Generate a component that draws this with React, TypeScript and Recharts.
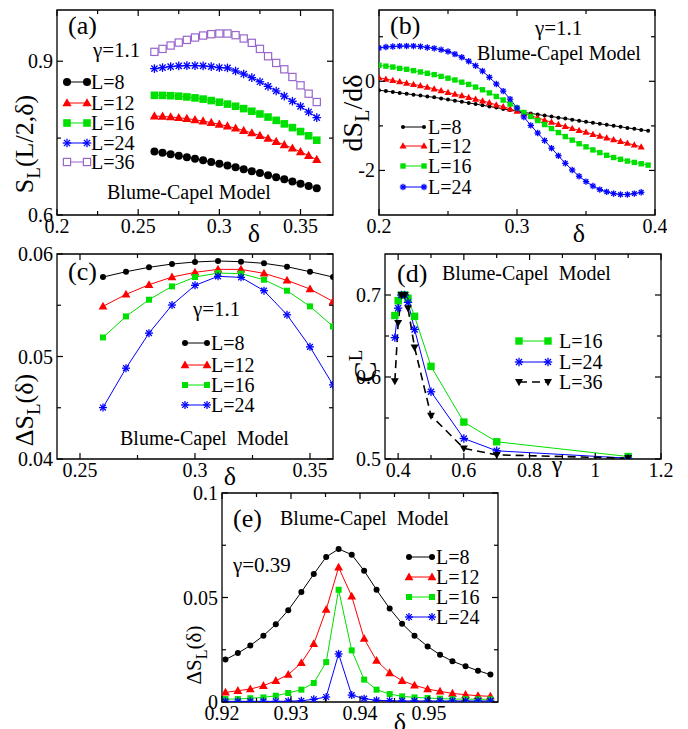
import React from 'react'
import { LineChart, Line, XAxis, YAxis, ReferenceArea, Customized } from 'recharts'

const FONT = 'Liberation Serif, DejaVu Serif, serif'
const RED = '#ff0000'
const GREEN = '#00e000'
const BLUE = '#0000ff'
const PURPLE = '#9966cc'

// (a) entanglement entropy S_L(L/2, delta), gamma = 1.1
const aDelta = [0.26, 0.265, 0.27, 0.275, 0.28, 0.285, 0.29, 0.295, 0.3, 0.305, 0.31, 0.315, 0.32, 0.325, 0.33, 0.335, 0.34, 0.345, 0.35, 0.355, 0.36]
const aL8 = [0.724, 0.7213, 0.7186, 0.7158, 0.7128, 0.7098, 0.7066, 0.7034, 0.7, 0.6966, 0.693, 0.6894, 0.6856, 0.6818, 0.6778, 0.6738, 0.6696, 0.6654, 0.661, 0.6566, 0.652]
const aL12 = [0.793, 0.7923, 0.7913, 0.7898, 0.788, 0.7858, 0.7833, 0.7803, 0.777, 0.7733, 0.7693, 0.7648, 0.76, 0.7548, 0.7493, 0.7433, 0.737, 0.7303, 0.7233, 0.7158, 0.708]
const aL16 = [0.8335, 0.8334, 0.8328, 0.8319, 0.8304, 0.8285, 0.8261, 0.8233, 0.8201, 0.8164, 0.8122, 0.8076, 0.8025, 0.7971, 0.7911, 0.7847, 0.7778, 0.7705, 0.7628, 0.7546, 0.7459]
const aL24 = [0.8856, 0.8876, 0.8896, 0.8909, 0.8915, 0.8915, 0.8909, 0.8896, 0.8876, 0.887, 0.881, 0.875, 0.868, 0.86, 0.851, 0.842, 0.832, 0.822, 0.812, 0.801, 0.79]
const aL36 = [0.9183, 0.9241, 0.9307, 0.9365, 0.9417, 0.9463, 0.9502, 0.9528, 0.9541, 0.9541, 0.9509, 0.9444, 0.9359, 0.9241, 0.9098, 0.8967, 0.8843, 0.8693, 0.853, 0.8367, 0.8204]
const aXTicks = [0.2, 0.225, 0.25, 0.275, 0.3, 0.325, 0.35]
const aXLabels = ['0.2', '', '0.25', '', '0.3', '', '0.35']
const aYTicks = [0.6, 0.75, 0.9]
const aYLabels = ['0.6', '', '0.9']

// (b) derivative dS_L/d delta
const bDelta = [0.2, 0.205, 0.21, 0.215, 0.22, 0.225, 0.23, 0.235, 0.24, 0.245, 0.25, 0.255, 0.26, 0.265, 0.27, 0.275, 0.28, 0.285, 0.29, 0.295, 0.3, 0.305, 0.31, 0.315, 0.32, 0.325, 0.33, 0.335, 0.34, 0.345, 0.35, 0.355, 0.36, 0.365, 0.37, 0.375, 0.38, 0.385, 0.39, 0.395]
const bL8 = [-0.2, -0.22, -0.24, -0.26, -0.28, -0.3, -0.32, -0.34, -0.36, -0.385, -0.41, -0.435, -0.46, -0.485, -0.51, -0.54, -0.565, -0.59, -0.62, -0.645, -0.67, -0.7, -0.72, -0.745, -0.77, -0.79, -0.815, -0.835, -0.86, -0.885, -0.91, -0.93, -0.955, -0.975, -1.0, -1.02, -1.045, -1.065, -1.09, -1.11]
const bL12 = [0.08, 0.05, 0.02, -0.01, -0.04, -0.07, -0.1, -0.13, -0.17, -0.21, -0.25, -0.29, -0.32, -0.36, -0.4, -0.44, -0.48, -0.53, -0.57, -0.62, -0.67, -0.72, -0.77, -0.82, -0.87, -0.92, -0.97, -1.01, -1.06, -1.1, -1.14, -1.19, -1.23, -1.27, -1.31, -1.35, -1.39, -1.43, -1.47]
const bL16 = [0.36, 0.34, 0.32, 0.29, 0.27, 0.24, 0.21, 0.18, 0.15, 0.11, 0.07, 0.03, -0.02, -0.07, -0.13, -0.19, -0.26, -0.34, -0.42, -0.51, -0.6, -0.7, -0.79, -0.88, -0.97, -1.06, -1.15, -1.24, -1.32, -1.4, -1.47, -1.54, -1.6, -1.66, -1.71, -1.75, -1.79, -1.82, -1.85, -1.88]
const bL24 = [0.75, 0.77, 0.78, 0.79, 0.79, 0.79, 0.78, 0.76, 0.74, 0.71, 0.67, 0.61, 0.54, 0.45, 0.35, 0.23, 0.09, -0.06, -0.22, -0.4, -0.6, -0.8, -0.99, -1.16, -1.33, -1.5, -1.67, -1.84, -1.99, -2.13, -2.25, -2.35, -2.43, -2.48, -2.52, -2.54, -2.54, -2.52, -2.49]
const bXTicks = [0.2, 0.25, 0.3, 0.35, 0.4]
const bXLabels = ['0.2', '', '0.3', '', '0.4']
const bYTicks = [-2, -1, 0, 1]
const bYLabels = ['-2', '', '0', '']

// (c) Delta S_L(delta)
const cDelta = [0.26, 0.27, 0.28, 0.29, 0.3, 0.31, 0.32, 0.33, 0.34, 0.35, 0.36]
const cL8 = [0.05775, 0.05827, 0.0587, 0.05902, 0.05922, 0.05932, 0.05925, 0.05909, 0.05876, 0.05827, 0.05775]
const cL12 = [0.05489, 0.05606, 0.057, 0.05775, 0.05821, 0.0585, 0.0585, 0.05811, 0.05743, 0.05658, 0.05537]
const cL16 = [0.05186, 0.05391, 0.05554, 0.05684, 0.05775, 0.05814, 0.05808, 0.05749, 0.05642, 0.05489, 0.05293]
const cL24 = [0.04502, 0.04886, 0.05228, 0.05502, 0.05694, 0.05782, 0.05772, 0.05642, 0.05407, 0.05094, 0.04723]
const cXTicks = [0.25, 0.275, 0.3, 0.325, 0.35]
const cXLabels = ['0.25', '', '0.3', '', '0.35']
const cYTicks = [0.04, 0.045, 0.05, 0.055, 0.06]
const cYLabels = ['0.04', '', '0.05', '', '0.06']

// (d) C_L versus gamma
const dGamma = [0.39, 0.4, 0.41, 0.42, 0.43, 0.45, 0.5, 0.6, 0.7, 1.1]
const dL16 = [0.675, 0.693, 0.7, 0.7, 0.696, 0.674, 0.613, 0.545, 0.521, 0.503]
const dL24 = [0.648, 0.684, 0.7, 0.7, 0.691, 0.658, 0.582, 0.525, 0.51, 0.501]
const dL36 = [0.595, 0.666, 0.7, 0.7, 0.684, 0.636, 0.553, 0.513, 0.505, 0.501]
const dXTicks = [0.4, 0.5, 0.6, 0.7, 0.8, 0.9, 1, 1.1, 1.2]
const dXLabels = ['0.4', '', '0.6', '', '0.8', '', '1', '', '1.2']
const dYTicks = [0.5, 0.55, 0.6, 0.65, 0.7]
const dYLabels = ['0.5', '', '0.6', '', '0.7']

// (e) Delta S_L(delta), gamma = 0.39
const eDelta = [0.9205, 0.9223, 0.9241, 0.926, 0.9278, 0.9296, 0.9315, 0.9333, 0.9351, 0.9369, 0.9388, 0.9406, 0.9424, 0.9443, 0.9461, 0.9479, 0.9498, 0.9516, 0.9534, 0.9553, 0.9571, 0.9589]
const eL8 = [0.0203, 0.0234, 0.027, 0.0317, 0.0372, 0.0439, 0.0526, 0.0612, 0.0694, 0.0732, 0.0705, 0.0628, 0.0537, 0.0447, 0.0375, 0.0317, 0.0266, 0.0226, 0.0195, 0.0171, 0.015, 0.0131]
const eL12 = [0.0046, 0.0054, 0.0062, 0.0078, 0.0102, 0.0131, 0.0187, 0.0278, 0.0442, 0.0644, 0.0506, 0.0303, 0.0198, 0.0139, 0.0102, 0.008, 0.0062, 0.0051, 0.0041, 0.0035, 0.003, 0.0027]
const eL16 = [0.0014, 0.0014, 0.0018, 0.0022, 0.003, 0.0043, 0.0059, 0.0091, 0.0191, 0.0537, 0.0247, 0.0107, 0.0059, 0.0038, 0.0027, 0.0022, 0.0019, 0.0016, 0.0014, 0.0014, 0.0013, 0.0013]
const eL24 = [0.0003, 0.0003, 0.0003, 0.0003, 0.0003, 0.0004, 0.0006, 0.0013, 0.0024, 0.023, 0.0033, 0.0016, 0.0008, 0.0006, 0.0005, 0.0005, 0.0005, 0.0005, 0.0005, 0.0005, 0.0005, 0.0005]
const eXTicks = [0.92, 0.925, 0.93, 0.935, 0.94, 0.945, 0.95, 0.955]
const eXLabels = ['0.92', '', '0.93', '', '0.94', '', '0.95', '']
const eYTicks = [0, 0.025, 0.05, 0.075, 0.1]
const eYLabels = ['0', '', '0.05', '', '0.1']

type Shape = 'circle' | 'triUp' | 'triDown' | 'square' | 'openSquare' | 'star'

interface SeriesSpec {
  name: string
  xs: number[]
  ys: number[]
  color: string
  shape: Shape
  size: number
  dash?: string
  lw?: number
}

const zip = (xs: number[], ys: number[]) => ys.map((y, i) => ({ x: xs[i], y }))

function Marker({ cx, cy, shape, color, s }: { cx: number; cy: number; shape: Shape; color: string; s: number }) {
  if (cx == null || cy == null || isNaN(cx) || isNaN(cy)) return null
  switch (shape) {
    case 'circle':
      return <circle cx={cx} cy={cy} r={s} fill={color} />
    case 'square':
      return <rect x={cx - s} y={cy - s} width={2 * s} height={2 * s} fill={color} />
    case 'openSquare':
      return <rect x={cx - s} y={cy - s} width={2 * s} height={2 * s} fill="#fff" stroke={color} strokeWidth={1.2} />
    case 'triUp':
      return <polygon points={`${cx},${cy - s * 1.15} ${cx - s * 1.1},${cy + s * 0.8} ${cx + s * 1.1},${cy + s * 0.8}`} fill={color} />
    case 'triDown':
      return <polygon points={`${cx},${cy + s * 1.15} ${cx - s * 1.1},${cy - s * 0.8} ${cx + s * 1.1},${cy - s * 0.8}`} fill={color} />
    case 'star': {
      const d = s * 0.72
      return (
        <g stroke={color} strokeWidth={1.3}>
          <line x1={cx - s} y1={cy} x2={cx + s} y2={cy} />
          <line x1={cx} y1={cy - s} x2={cx} y2={cy + s} />
          <line x1={cx - d} y1={cy - d} x2={cx + d} y2={cy + d} />
          <line x1={cx - d} y1={cy + d} x2={cx + d} y2={cy - d} />
        </g>
      )
    }
  }
  return null
}

const txt = (size: number): React.CSSProperties => ({ fontFamily: FONT, fontSize: size })

function LegendRow({ s, x1, x2, y, gap }: { s: SeriesSpec; x1: number; x2: number; y: number; gap: number }) {
  return (
    <g>
      <line x1={x1} y1={y} x2={x2} y2={y} stroke={s.color} strokeWidth={s.lw ?? 1} strokeDasharray={s.dash} />
      <Marker cx={x1} cy={y} shape={s.shape} color={s.color} s={s.size} />
      <Marker cx={x2} cy={y} shape={s.shape} color={s.color} s={s.size} />
      <text x={x2 + gap} y={y + 7} style={txt(20)} fill="#000">
        {s.name}
      </text>
    </g>
  )
}

function Legend({ series, x1, x2, ys, gap = 4 }: { series: SeriesSpec[]; x1: number; x2: number; ys: number[]; gap?: number }) {
  return (
    <g>
      {series.map((s, i) => (
        <LegendRow key={s.name} s={s} x1={x1} x2={x2} y={ys[i]} gap={gap} />
      ))}
    </g>
  )
}

function T({ x, y, size = 20, children, anchor = 'start' }: { x: number; y: number; size?: number; children: React.ReactNode; anchor?: string }) {
  return (
    <text x={x} y={y} style={{ ...txt(size), whiteSpace: 'pre' }} fill="#000" textAnchor={anchor as any}>
      {children}
    </text>
  )
}

// rotated axis title: cx = baseline x, cy = centre along the axis
function VTitle({ cx, cy, children, size = 25 }: { cx: number; cy: number; children: React.ReactNode; size?: number }) {
  return (
    <text x={cx} y={cy} transform={`rotate(-90 ${cx} ${cy})`} style={txt(size)} fill="#000" textAnchor="middle">
      {children}
    </text>
  )
}

const findLabel = (ticks: number[], labels: string[], v: number) => {
  const i = ticks.findIndex((t) => Math.abs(t - v) < 1e-9)
  return i >= 0 ? labels[i] : ''
}

const ML = 60
const MT = 12

interface PanelProps {
  box: [number, number, number, number]
  xDomain: [number, number]
  yDomain: [number, number]
  xTicks: number[]
  xLabels: string[]
  yTicks: number[]
  yLabels: string[]
  series: SeriesSpec[]
  overlay: React.ReactNode
}

function Panel({ box, xDomain, yDomain, xTicks, xLabels, yTicks, yLabels, series, overlay }: PanelProps) {
  const [px, py, pw, ph] = box
  const left = px - ML
  const top = py - MT
  const plotRight = ML + pw

  const xTick = (p: any) => {
    const { x, y, payload } = p
    const label = findLabel(xTicks, xLabels, payload.value)
    const len = label ? 6 : 4
    return (
      <g>
        <line x1={x} y1={y} x2={x} y2={y - len} stroke="#000" strokeWidth={1.2} />
        <line x1={x} y1={MT} x2={x} y2={MT + len} stroke="#000" strokeWidth={1.2} />
        {label && (
          <text x={x} y={y + 18} textAnchor="middle" style={txt(20)} fill="#000">
            {label}
          </text>
        )}
      </g>
    )
  }

  const yTick = (p: any) => {
    const { x, y, payload } = p
    const label = findLabel(yTicks, yLabels, payload.value)
    const len = label ? 6 : 4
    return (
      <g>
        <line x1={x} y1={y} x2={x + len} y2={y} stroke="#000" strokeWidth={1.2} />
        <line x1={plotRight} y1={y} x2={plotRight - len} y2={y} stroke="#000" strokeWidth={1.2} />
        {label && (
          <text x={x - 4} y={y + 7} textAnchor="end" style={txt(20)} fill="#000">
            {label}
          </text>
        )}
      </g>
    )
  }

  return (
    <div style={{ position: 'absolute', left, top }}>
      <LineChart width={pw + ML + 12} height={ph + MT + 40} margin={{ top: MT, right: 12, left: 0, bottom: 0 }}>
        <XAxis
          type="number"
          dataKey="x"
          domain={xDomain}
          ticks={xTicks}
          interval={0}
          allowDataOverflow
          height={40}
          tickSize={0}
          tickMargin={0}
          tickLine={false}
          axisLine={false}
          tick={xTick}
        />
        <YAxis
          type="number"
          domain={yDomain}
          ticks={yTicks}
          interval={0}
          allowDataOverflow
          width={ML}
          tickSize={0}
          tickMargin={0}
          tickLine={false}
          axisLine={false}
          tick={yTick}
        />
        <ReferenceArea x1={xDomain[0]} x2={xDomain[1]} y1={yDomain[0]} y2={yDomain[1]} fill="none" stroke="#000" strokeWidth={1.3} ifOverflow="visible" />
        {series.map((s) => (
          <Line
            key={s.name}
            data={zip(s.xs, s.ys)}
            dataKey="y"
            type="linear"
            stroke={s.color}
            strokeWidth={s.lw ?? 1}
            strokeDasharray={s.dash}
            isAnimationActive={false}
            activeDot={false}
            legendType="none"
            dot={(p: any) => <Marker key={`${s.name}-${p.index}`} cx={p.cx} cy={p.cy} shape={s.shape} color={s.color} s={s.size} />}
          />
        ))}
        <Customized component={() => <g transform={`translate(${-left},${-top})`}>{overlay}</g>} />
      </LineChart>
    </div>
  )
}

const seriesA: SeriesSpec[] = [
  { name: 'L=8', xs: aDelta, ys: aL8, color: '#000', shape: 'circle', size: 4 },
  { name: 'L=12', xs: aDelta, ys: aL12, color: RED, shape: 'triUp', size: 4.2 },
  { name: 'L=16', xs: aDelta, ys: aL16, color: GREEN, shape: 'square', size: 3.8 },
  { name: 'L=24', xs: aDelta, ys: aL24, color: BLUE, shape: 'star', size: 4.3 },
  { name: 'L=36', xs: aDelta, ys: aL36, color: PURPLE, shape: 'openSquare', size: 3.6 },
]

const seriesB: SeriesSpec[] = [
  { name: 'L=8', xs: bDelta, ys: bL8, color: '#000', shape: 'circle', size: 2 },
  { name: 'L=12', xs: bDelta, ys: bL12, color: RED, shape: 'triUp', size: 3.2 },
  { name: 'L=16', xs: bDelta, ys: bL16, color: GREEN, shape: 'square', size: 2.7 },
  { name: 'L=24', xs: bDelta, ys: bL24, color: BLUE, shape: 'star', size: 3.2 },
]

const seriesC: SeriesSpec[] = [
  { name: 'L=8', xs: cDelta, ys: cL8, color: '#000', shape: 'circle', size: 3 },
  { name: 'L=12', xs: cDelta, ys: cL12, color: RED, shape: 'triUp', size: 4 },
  { name: 'L=16', xs: cDelta, ys: cL16, color: GREEN, shape: 'square', size: 3 },
  { name: 'L=24', xs: cDelta, ys: cL24, color: BLUE, shape: 'star', size: 4 },
]

const seriesD: SeriesSpec[] = [
  { name: 'L=16', xs: dGamma, ys: dL16, color: GREEN, shape: 'square', size: 3.7 },
  { name: 'L=24', xs: dGamma, ys: dL24, color: BLUE, shape: 'star', size: 4.2 },
  { name: 'L=36', xs: dGamma, ys: dL36, color: '#000', shape: 'triDown', size: 3.6, dash: '8 5', lw: 1.6 },
]

const seriesE: SeriesSpec[] = [
  { name: 'L=8', xs: eDelta, ys: eL8, color: '#000', shape: 'circle', size: 3 },
  { name: 'L=12', xs: eDelta, ys: eL12, color: RED, shape: 'triUp', size: 4 },
  { name: 'L=16', xs: eDelta, ys: eL16, color: GREEN, shape: 'square', size: 3 },
  { name: 'L=24', xs: eDelta, ys: eL24, color: BLUE, shape: 'star', size: 4 },
]

export default function App() {
  return (
    <div style={{ position: 'absolute', left: 0, top: 0, width: 688, height: 729, overflow: 'hidden', background: '#fff' }}>
      <Panel
        box={[57, 10, 276, 205]}
        xDomain={[0.2, 0.37]}
        yDomain={[0.6, 1.0]}
        xTicks={aXTicks}
        xLabels={aXLabels}
        yTicks={aYTicks}
        yLabels={aYLabels}
        series={seriesA}
        overlay={
          <g>
            <T x={68} y={34} size={26}>(a)</T>
            <T x={93} y={57} size={21}>γ=1.1</T>
            <Legend series={seriesA} x1={67} x2={87} ys={[82, 103, 123, 143, 162]} />
            <T x={107} y={199}>Blume-Capel Model</T>
            <VTitle cx={33} cy={144} size={26}>
              S<tspan dy={7} style={{ fontSize: 19 }}>L</tspan>
              <tspan dy={-7}>(L/2,δ)</tspan>
            </VTitle>
            <T x={254} y={242} size={26} anchor="middle">δ</T>
          </g>
        }
      />
      <Panel
        box={[379, 10, 276, 205]}
        xDomain={[0.2, 0.4]}
        yDomain={[-3, 1.6]}
        xTicks={bXTicks}
        xLabels={bXLabels}
        yTicks={bYTicks}
        yLabels={bYLabels}
        series={seriesB}
        overlay={
          <g>
            <T x={390} y={34} size={26}>(b)</T>
            <T x={535} y={35} size={21}>γ=1.1</T>
            <T x={477} y={60}>Blume-Capel Model</T>
            <Legend series={seriesB} x1={403} x2={424} ys={[127, 146, 166, 187]} />
            <VTitle cx={362} cy={113} size={28}>
              dS<tspan dy={7} style={{ fontSize: 20 }}>L</tspan>
              <tspan dy={-7}>/dδ</tspan>
            </VTitle>
            <T x={579} y={242} size={26} anchor="middle">δ</T>
          </g>
        }
      />
      <Panel
        box={[57, 254, 276, 205]}
        xDomain={[0.24, 0.36]}
        yDomain={[0.04, 0.06]}
        xTicks={cXTicks}
        xLabels={cXLabels}
        yTicks={cYTicks}
        yLabels={cYLabels}
        series={seriesC}
        overlay={
          <g>
            <T x={68} y={280} size={26}>(c)</T>
            <T x={193} y={316} size={21}>γ=1.1</T>
            <Legend series={seriesC} x1={185} x2={207} ys={[343, 365, 385, 405]} />
            <T x={120} y={445}>Blume-Capel  Model</T>
            <VTitle cx={33} cy={410} size={26}>
              ΔS<tspan dy={7} style={{ fontSize: 19 }}>L</tspan>
              <tspan dy={-7}>(δ)</tspan>
            </VTitle>
            <T x={230} y={485} size={26} anchor="middle">δ</T>
          </g>
        }
      />
      <Panel
        box={[385, 254, 276, 205]}
        xDomain={[0.36, 1.2]}
        yDomain={[0.5, 0.75]}
        xTicks={dXTicks}
        xLabels={dXLabels}
        yTicks={dYTicks}
        yLabels={dYLabels}
        series={seriesD}
        overlay={
          <g>
            <T x={397} y={282} size={26}>(d)</T>
            <T x={442} y={280}>Blume-Capel  Model</T>
            <Legend series={seriesD} x1={519} x2={548} ys={[341, 362, 382]} gap={11} />
            <VTitle cx={376} cy={366} size={32}>
              C<tspan dy={-14} style={{ fontSize: 19 }}>L</tspan>
            </VTitle>
            <T x={557} y={472} size={24} anchor="middle">γ</T>
          </g>
        }
      />
      <Panel
        box={[222, 493, 276, 209]}
        xDomain={[0.92, 0.96]}
        yDomain={[0, 0.1]}
        xTicks={eXTicks}
        xLabels={eXLabels}
        yTicks={eYTicks}
        yLabels={eYLabels}
        series={seriesE}
        overlay={
          <g>
            <T x={233} y={527} size={26}>(e)</T>
            <T x={280} y={525}>Blume-Capel  Model</T>
            <T x={233} y={572} size={21}>γ=0.39</T>
            <Legend series={seriesE} x1={409} x2={432} ys={[557, 577, 597, 617]} />
            <VTitle cx={201} cy={655} size={21}>
              ΔS<tspan dy={6} style={{ fontSize: 16 }}>L</tspan>
              <tspan dy={-6}>(δ)</tspan>
            </VTitle>
            <T x={400} y={731} size={26} anchor="middle">δ</T>
          </g>
        }
      />
    </div>
  )
}
